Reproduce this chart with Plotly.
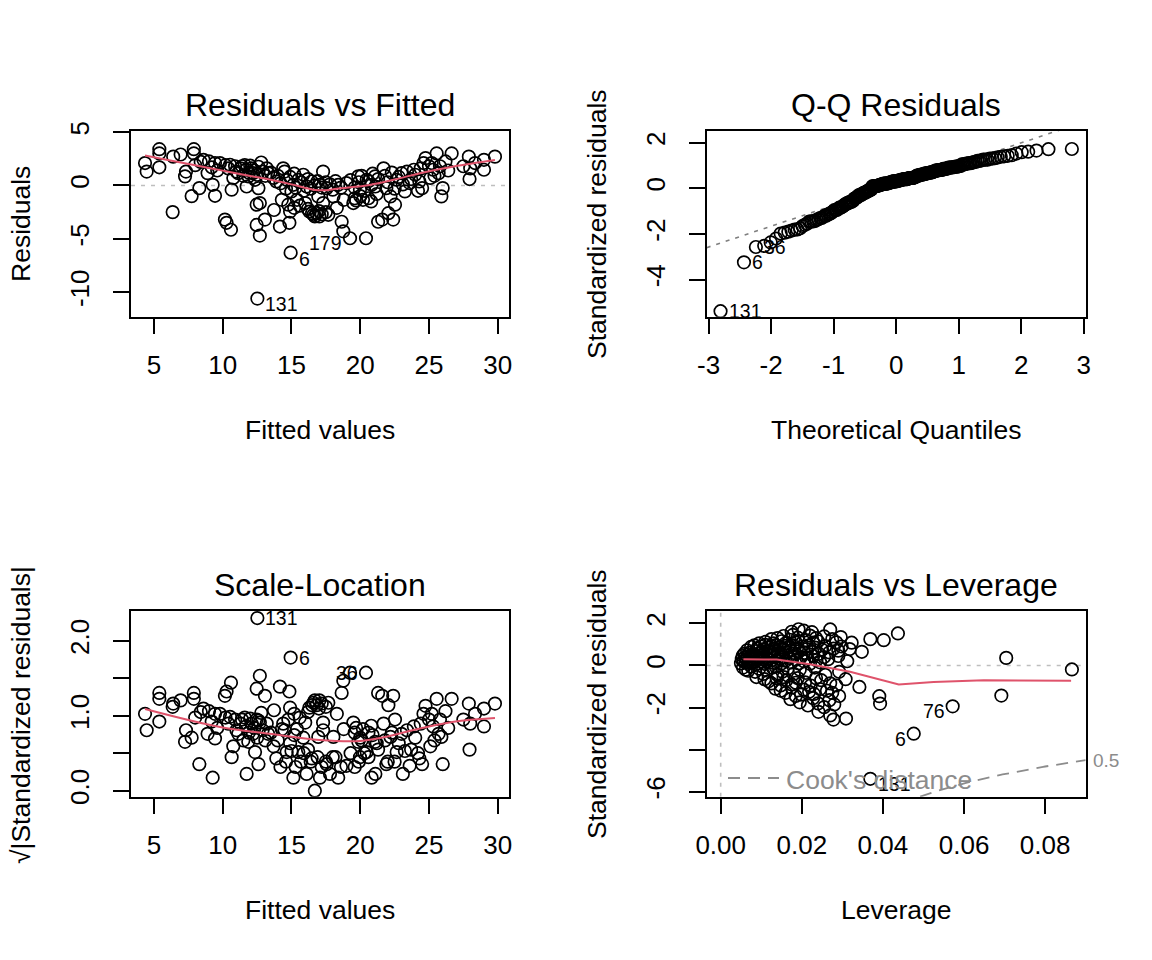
import numpy as np
import plotly.graph_objects as go
from statistics import NormalDist

W, H = 1152, 960
FONT = "Liberation Sans, Arial, Helvetica, sans-serif"
RED = "#DF536B"

# ---------------- Residuals vs Fitted (first four are flagged obs 131, 6, 179, 36)
fitted = [12.52, 14.94, 19.26, 20.42,
    4.35, 4.47, 5.39, 5.39, 5.39, 6.4, 6.94, 6.36, 7.33, 7.26, 7.9, 7.9, 7.74, 8.3, 8.6, 8.9,
    9.0, 9.27, 9.44, 9.44, 9.8, 10.16, 10.28, 10.6, 10.65, 10.53, 10.9, 10.77, 11.13, 11.4, 11.7,
    11.74, 11.86, 12.1, 12.2, 12.35, 12.47, 12.7, 12.47, 12.7, 12.8, 12.6, 13.07, 13.3, 13.7,
    13.73, 13.9, 14.16, 14.3, 14.4, 14.5, 14.65, 14.77, 14.85, 14.9, 15.0, 15.14, 15.4, 15.5,
    15.86, 16.0, 16.1, 16.3, 16.47, 16.6, 16.83, 16.95, 17.03, 17.07, 17.3, 17.3, 17.56, 17.68,
    18.05, 18.3, 18.4, 18.65, 18.77, 18.8, 19.0, 19.5, 19.6, 19.86, 19.98, 20.2, 20.47, 20.6,
    20.83, 21.08, 21.3, 21.6, 21.7, 21.9, 22.05, 22.2, 22.4, 22.53, 22.65, 23.0, 23.25, 23.6,
    23.9, 24.3, 24.5, 24.6, 24.75, 25.0, 25.1, 25.3, 25.56, 25.7, 25.9, 26.0, 26.2, 26.65, 27.5,
    27.9, 27.95, 28.0, 28.35, 29.0, 29.0, 29.8,
    10.2, 10.4, 11.0, 11.3, 11.5, 11.6, 11.9, 12.0, 12.3, 12.5, 12.6, 12.9, 13.1, 13.2, 13.5,
    14.0, 14.2, 14.6, 14.9, 15.2, 15.3, 15.7, 15.9, 16.2, 16.4, 16.7, 16.9, 17.2, 17.5, 17.8,
    18.0, 18.2, 18.6,
    16.2, 16.5, 16.7, 17.0, 17.2, 17.5, 15.6, 15.2,
    19.3, 19.6, 19.9, 20.1, 20.3, 20.6, 20.9, 21.1, 21.3, 21.8, 22.0, 22.3, 22.5, 22.8, 23.1,
    23.4, 23.7, 24.0, 24.2, 24.4, 25.2, 25.4, 25.8, 26.4,
    19.7, 20.0, 20.8, 21.2,
    8.0, 8.4, 9.2, 9.6]
resid = [-10.6, -6.3, -4.95, -4.95,
    2.1, 1.3, 3.4, 3.0, 1.7, 2.7, 2.9, -2.5, 1.3, 0.85, 3.4, 3.0, -1.0, -0.25, 2.4, 1.15,
    2.25, 0.06, -0.97, 2.1, 2.1, -3.2, -3.5, -4.15, -0.4, 1.94, 1.8, 0.7, 1.15, 1.8, 1.47,
    -0.1, 0.85, 1.6, 1.15, 0.53, -1.8, -1.65, -3.7, -4.7, 2.15, -0.25, -3.2, 1.15, 0.7,
    -2.3, 0.37, -3.85, -1.35, 1.6, 1.3, 0.53, -1.8, -3.5, -2.45, -0.56, 0.06, -1.35, 0.53,
    1.0, -1.65, -0.1, -2.45, 0.37, -2.75, -2.6, -1.03, -2.9, 0.06, 1.3, -1.65, -0.25, -2.75,
    -1.03, -2.1, 0.06, -3.4, -4.3, -1.35, 0.22, -1.65, -1.2, 0.85, -0.4, -1.35, 0.53, -1.2,
    0.06, 0.85, -3.4, -3.2, 1.6, -0.25, -2.6, -1.03, -3.2, -1.8, 0.53, 1.15, -0.56, 0.22,
    1.47, 0.37, -0.25, 2.1, 2.56, 1.8, 0.7, 1.47, 3.0, 1.15, -1.03, -0.25, 2.25, 3.0, 1.8,
    2.7, 0.6, 1.6, 2.1, 2.4, 1.47, 2.7,
    1.9, 1.6, 1.3, 1.6, 0.9, 1.9, 1.2, 1.85, 1.4, 1.0, 1.75, 1.3, 0.9, 1.6, 1.2,
    0.9, 0.2, -0.3, 0.8, 1.1, -0.2, 0.3, -0.5, 0.6, -0.3, 0.0, 0.4, -0.2, 0.3, 0.1,
    -0.4, 0.4, -0.2,
    -2.2, -2.6, -2.9, -2.4, -2.7, -2.5, -1.9, -2.1,
    0.5, -0.2, 0.3, 0.9, -0.5, 0.4, 1.1, -0.1, 0.6, 0.9, 0.3, 1.2, -0.3, 0.8, 0.1,
    1.3, 0.6, 1.0, -0.5, 1.6, 2.1, 0.9, 1.8, 1.4,
    -1.4, -1.0, -1.5, -0.8,
    1.9, 2.2, 1.7, 1.4]
rf_smooth_x = [4.35, 6.0, 8.0, 10.0, 12.0, 13.4, 15.0, 16.6, 17.5, 18.3, 20.7, 22.5, 24.35, 26.8, 29.8]
rf_smooth_y = [2.8, 2.39, 1.89, 1.39, 0.89, 0.55, 0.1, -0.4, -0.45, -0.3, 0.05, 0.55, 1.15, 1.78, 2.38]
sigma_hat = 2.0

# ---------------- Scale-Location smoother
sl_smooth_x = [4.35, 9.8, 13.4, 17.07, 20.0, 21.9, 24.35, 26.8, 29.8]
sl_smooth_y = [1.09, 0.85, 0.76, 0.676, 0.663, 0.72, 0.83, 0.92, 0.97]

# ---------------- Residuals vs Leverage (first three flagged obs 131, 6, 76)
leverage = [0.0369, 0.0476, 0.0572,
    0.0369, 0.0402, 0.0437, 0.0348, 0.0323, 0.0342, 0.0391, 0.0393, 0.0692, 0.0704, 0.0866,
    0.0309, 0.0278, 0.027, 0.0241,
    0.0192, 0.027, 0.0175, 0.0225, 0.0205,
    0.0095, 0.011, 0.0125, 0.013, 0.014, 0.015, 0.0155, 0.016, 0.017, 0.0178, 0.0185, 0.019,
    0.021, 0.022, 0.0228, 0.0235, 0.024, 0.0255, 0.0275, 0.0285, 0.0296,
    0.0058, 0.0065, 0.007, 0.0075, 0.008, 0.0083, 0.0087, 0.009, 0.0095, 0.0098, 0.0102,
    0.0106, 0.011, 0.0117, 0.012, 0.0124, 0.0128, 0.0132, 0.0136, 0.014, 0.0145, 0.015,
    0.0154, 0.0158, 0.0163, 0.0168, 0.0172, 0.0178, 0.0183, 0.0188, 0.0194, 0.02, 0.0206,
    0.0212, 0.0218, 0.0226, 0.0233, 0.0242, 0.025, 0.0258, 0.0268, 0.0278, 0.029, 0.0298, 0.0318,
    0.005, 0.0052, 0.0054, 0.0056, 0.006, 0.0062, 0.0064, 0.0066, 0.0068, 0.007, 0.0072,
    0.0074, 0.0076, 0.0078, 0.008, 0.0082, 0.0086, 0.0088, 0.009, 0.0093, 0.0096, 0.0099,
    0.0102, 0.0105, 0.0108, 0.0111, 0.0114, 0.0117, 0.0123, 0.0126, 0.013, 0.0134, 0.0138,
    0.0142, 0.0146, 0.015, 0.0155, 0.016, 0.017, 0.0175, 0.018, 0.0186, 0.0192, 0.0198,
    0.0205, 0.0212, 0.022, 0.0228, 0.0236, 0.0245, 0.0255, 0.0265, 0.029, 0.0312,
    0.0055, 0.0062, 0.0075, 0.0085, 0.0095, 0.0105, 0.0115, 0.0128, 0.014, 0.0152, 0.0165,
    0.018, 0.0195, 0.021, 0.0232, 0.0258, 0.0292, 0.0068, 0.0135,
    0.0088, 0.0108, 0.0125, 0.0138, 0.0148, 0.0162, 0.0175, 0.019, 0.0208, 0.0222, 0.0248,
    0.027, 0.0308, 0.0118, 0.0155, 0.0185, 0.0235, 0.0285,
    0.0135, 0.016, 0.0185, 0.0205, 0.023, 0.0262, 0.0292, 0.0148, 0.0175, 0.0198, 0.0218,
    0.0245, 0.0275,
    0.0172, 0.0195, 0.0215, 0.0228, 0.024, 0.0255, 0.0268, 0.028]
std_resid = [-5.38, -3.24, -1.94,
    1.25, 1.2, 1.52, 0.65, 1.08, -1.02, -1.46, -1.81, -1.43, 0.36, -0.19,
    -2.52, -2.57, -2.37, -2.2,
    1.72, 1.71, 1.6, 1.58, 1.65,
    1.05, 1.12, 1.25, 1.05, 1.3, 1.15, 1.4, 1.05, 1.22, 1.45, 1.1, 1.32,
    1.2, 1.42, 1.08, 1.3, 1.15, 1.38, 1.25, 1.1, 1.35,
    0.55, 0.72, 0.6, 0.88, 0.52, 0.95, 0.68, 0.8, 0.58, 0.9, 0.65,
    0.78, 0.98, 0.85, 0.7, 0.92, 0.6, 0.8, 0.97, 0.66, 0.85, 0.55,
    0.75, 0.93, 0.62, 0.85, 0.7, 0.95, 0.58, 0.8, 0.68, 0.9, 0.6,
    0.78, 0.95, 0.65, 0.85, 0.55, 0.75, 0.92, 0.62, 0.8, 0.7, 0.9, 0.78,
    0.1, 0.3, 0.45, 0.2, 0.38, 0.15, 0.28, 0.42, 0.08, 0.22, 0.35,
    0.48, 0.12, 0.3, 0.4, 0.18, 0.33, 0.45, 0.25, 0.1, 0.38, 0.2,
    0.47, 0.3, 0.08, 0.4, 0.18, 0.32, 0.45, 0.25, 0.12, 0.38, 0.2,
    0.48, 0.3, 0.1, 0.4, 0.22, 0.35, 0.15, 0.45, 0.28, 0.1, 0.4,
    0.2, 0.33, 0.08, 0.45, 0.25, 0.15, 0.4, 0.3, 0.45, 0.2,
    -0.1, -0.2, -0.05, -0.3, -0.15, -0.4, -0.25, -0.1, -0.45, -0.3, -0.15,
    -0.4, -0.2, -0.35, -0.1, -0.45, -0.3, -0.25, -0.05,
    -0.55, -0.65, -0.85, -0.6, -0.95, -0.7, -0.9, -0.6, -0.8, -0.95, -0.7,
    -0.85, -0.65, -0.75, -0.55, -0.82, -0.6, -0.95,
    -1.1, -1.3, -1.45, -1.15, -1.35, -1.2, -1.45, -1.2, -1.05, -1.38, -1.25,
    -1.12, -1.3,
    -1.6, -1.75, -1.9, -1.55, -1.8, -1.98, -1.65, -1.85]
lev_smooth_x = [0.0056, 0.0138, 0.022, 0.0319, 0.0439, 0.0525, 0.0649, 0.0864]
lev_smooth_y = [0.3, 0.28, 0.06, -0.3, -0.9, -0.78, -0.7, -0.73]
n_coef = 4
cook_level = 0.5

# ---------------- tick values / labels (R prints a plain hyphen minus)
x1_ticks = [5, 10, 15, 20, 25, 30]
x1_text = ["5", "10", "15", "20", "25", "30"]
y1_ticks = [5, 0, -5, -10]
y1_text = ["5", "0", "-5", "-10"]
x2_ticks = [-3, -2, -1, 0, 1, 2, 3]
x2_text = ["-3", "-2", "-1", "0", "1", "2", "3"]
y2_ticks = [2, 0, -2, -4]
y2_text = ["2", "0", "-2", "-4"]
y3_ticks = [0.0, 0.5, 1.0, 1.5, 2.0]
y3_text = ["0.0", "", "1.0", "", "2.0"]
x4_ticks = [0.0, 0.02, 0.04, 0.06, 0.08]
x4_text = ["0.00", "0.02", "0.04", "0.06", "0.08"]
y4_ticks = [2, 0, -2, -4, -6]
y4_text = ["2", "0", "-2", "", "-6"]

# ---------------- derived quantities (as plot.lm computes them)
sl_y = [float(np.sqrt(abs(r) / sigma_hat)) for r in resid]
nobs = len(std_resid)
qq_y = sorted(std_resid)
qq_x = [NormalDist().inv_cdf((i + 0.5) / nobs) for i in range(nobs)]
q1, q3 = np.quantile(std_resid, [0.25, 0.75])
z1, z3 = NormalDist().inv_cdf(0.25), NormalDist().inv_cdf(0.75)
qq_slope = (q3 - q1) / (z3 - z1)
qq_int = q1 - qq_slope * z1

X1R = [3.33, 30.82]; Y1R = [-12.3, 5.13]
X2R = [-3.03, 3.03]; Y2R = [-5.62, 2.52]
Y3R = [-0.08, 2.4]
X4R = [-0.00345, 0.0900]; Y4R = [-6.23, 2.6]

hh = np.linspace(0.04, X4R[1], 101)
cook_y = -np.sqrt(cook_level * n_coef * (1 - hh) / hh)

fig = go.Figure()
pt = dict(mode="markers", marker=dict(symbol="circle-open", size=12.5, color="black",
                                      line=dict(width=1.7, color="black")),
          showlegend=False, hoverinfo="skip")
DOT = "4px,6px"

fig.add_trace(go.Scatter(x=X1R, y=[0, 0], mode="lines", xaxis="x", yaxis="y",
                         line=dict(color="#BEBEBE", width=1.6, dash=DOT), showlegend=False))
fig.add_trace(go.Scatter(x=fitted, y=resid, xaxis="x", yaxis="y", **pt))
fig.add_trace(go.Scatter(x=rf_smooth_x, y=rf_smooth_y, mode="lines", xaxis="x", yaxis="y",
                         line=dict(color=RED, width=2, shape="spline"), showlegend=False))

fig.add_trace(go.Scatter(x=X2R, y=[qq_int + qq_slope * X2R[0], qq_int + qq_slope * X2R[1]],
                         mode="lines", xaxis="x2", yaxis="y2",
                         line=dict(color="#7F7F7F", width=1.6, dash=DOT), showlegend=False))
fig.add_trace(go.Scatter(x=qq_x, y=qq_y, xaxis="x2", yaxis="y2", **pt))

fig.add_trace(go.Scatter(x=fitted, y=sl_y, xaxis="x3", yaxis="y3", **pt))
fig.add_trace(go.Scatter(x=sl_smooth_x, y=sl_smooth_y, mode="lines", xaxis="x3", yaxis="y3",
                         line=dict(color=RED, width=2, shape="spline"), showlegend=False))

fig.add_trace(go.Scatter(x=X4R, y=[0, 0], mode="lines", xaxis="x4", yaxis="y4",
                         line=dict(color="#BEBEBE", width=1.6, dash=DOT), showlegend=False))
fig.add_trace(go.Scatter(x=[0, 0], y=Y4R, mode="lines", xaxis="x4", yaxis="y4",
                         line=dict(color="#BEBEBE", width=1.6, dash=DOT), showlegend=False))
fig.add_trace(go.Scatter(x=hh, y=cook_y, mode="lines", xaxis="x4", yaxis="y4",
                         line=dict(color="#8C8C8C", width=1.8, dash="12px,8px"), showlegend=False))
fig.add_trace(go.Scatter(x=leverage, y=std_resid, xaxis="x4", yaxis="y4", **pt))
fig.add_trace(go.Scatter(x=lev_smooth_x, y=lev_smooth_y, mode="lines", xaxis="x4", yaxis="y4",
                         line=dict(color=RED, width=2), showlegend=False))

xA = [131 / W, 509 / W]
xB = [706.7 / W, 1085.7 / W]
yT = [1 - 316.7 / H, 1 - 130.7 / H]
yB = [1 - 796.7 / H, 1 - 610.7 / H]

TICK = 26
common = dict(showline=True, linecolor="black", linewidth=1.5, mirror=True, ticks="outside",
              ticklen=16, tickwidth=1.5, tickcolor="black", showgrid=False, zeroline=False,
              automargin=False, tickmode="array",
              tickfont=dict(size=TICK, color="black", family=FONT))
xc = dict(common, ticklabelstandoff=8)
yc = dict(common, tickangle=-90, ticklabelstandoff=14)

fig.update_layout(
    template="none",
    width=W, height=H, margin=dict(l=0, r=0, t=0, b=0, pad=0), autosize=False,
    paper_bgcolor="white", plot_bgcolor="white", font=dict(family=FONT, color="black"),
    xaxis=dict(xc, domain=xA, range=X1R, tickvals=x1_ticks, ticktext=x1_text, anchor="y"),
    yaxis=dict(yc, domain=yT, range=Y1R, tickvals=y1_ticks, ticktext=y1_text, anchor="x"),
    xaxis2=dict(xc, domain=xB, range=X2R, tickvals=x2_ticks, ticktext=x2_text, anchor="y2"),
    yaxis2=dict(yc, domain=yT, range=Y2R, tickvals=y2_ticks, ticktext=y2_text, anchor="x2"),
    xaxis3=dict(xc, domain=xA, range=X1R, tickvals=x1_ticks, ticktext=x1_text, anchor="y3"),
    yaxis3=dict(yc, domain=yB, range=Y3R, tickvals=y3_ticks, ticktext=y3_text, anchor="x3"),
    xaxis4=dict(xc, domain=xB, range=X4R, tickvals=x4_ticks, ticktext=x4_text, anchor="y4"),
    yaxis4=dict(yc, domain=yB, range=Y4R, tickvals=y4_ticks, ticktext=y4_text, anchor="x4"),
)

ann = []
def paper_text(text, px, py, size, angle=0, color="black", xanchor="center"):
    ann.append(dict(text=text, x=px / W, y=1 - py / H, xref="paper", yref="paper",
                    showarrow=False, textangle=angle, xanchor=xanchor, yanchor="middle",
                    font=dict(size=size, color=color, family=FONT)))

TS = 32; LS = 26.5
paper_text("Residuals vs Fitted", 320, 105, TS)
paper_text("Q-Q Residuals", 896, 105, TS)
paper_text("Scale-Location", 320, 585, TS)
paper_text("Residuals vs Leverage", 896, 585, TS)
paper_text("Fitted values", 320, 430, LS)
paper_text("Theoretical Quantiles", 896, 430, LS)
paper_text("Fitted values", 320, 910, LS)
paper_text("Leverage", 896, 910, LS)
paper_text("Residuals", 21, 224, LS, angle=-90)
paper_text("Standardized residuals", 597, 224, LS, angle=-90)
paper_text("√|Standardized residuals|", 21, 715, LS, angle=-90)
paper_text("Standardized residuals", 597, 704, LS, angle=-90)

def pt_label(text, x, y, xr, yr, right=True, dy=0):
    ann.append(dict(text=text, x=x, y=y, xref=xr, yref=yr, showarrow=False,
                    xanchor="left" if right else "right", yanchor="middle",
                    xshift=6 if right else -6, yshift=dy,
                    font=dict(size=19.5, color="black", family=FONT)))

pt_label("131", fitted[0], resid[0], "x", "y", True, -5)
pt_label("6", fitted[1], resid[1], "x", "y", True, -6)
pt_label("179", fitted[2], resid[2], "x", "y", False, -5)
pt_label("131", qq_x[0], qq_y[0], "x2", "y2", True)
pt_label("6", qq_x[1], qq_y[1], "x2", "y2", True)
pt_label("36", qq_x[2], qq_y[2], "x2", "y2", True)
pt_label("131", fitted[0], sl_y[0], "x3", "y3", True)
pt_label("6", fitted[1], sl_y[1], "x3", "y3", True)
pt_label("36", fitted[3], sl_y[3], "x3", "y3", False)
pt_label("131", leverage[0], std_resid[0], "x4", "y4", True, -5)
pt_label("6", leverage[1], std_resid[1], "x4", "y4", False, -5)
pt_label("76", leverage[2], std_resid[2], "x4", "y4", False, -5)

ann.append(dict(text="0.5", x=X4R[1], y=float(cook_y[-1]), xref="x4", yref="y4",
                showarrow=False, xanchor="left", yanchor="middle", xshift=5,
                font=dict(size=19, color="#8C8C8C", family=FONT)))
paper_text("Cook's distance", 784, 780, LS, color="#8C8C8C", xanchor="left")
fig.update_layout(annotations=ann, shapes=[
    dict(type="line", xref="paper", yref="paper", x0=728 / W, x1=779 / W,
         y0=1 - 778 / H, y1=1 - 778 / H, line=dict(color="#8C8C8C", width=1.8, dash="12px,8px"))
])

fig.write_html("out.html")
